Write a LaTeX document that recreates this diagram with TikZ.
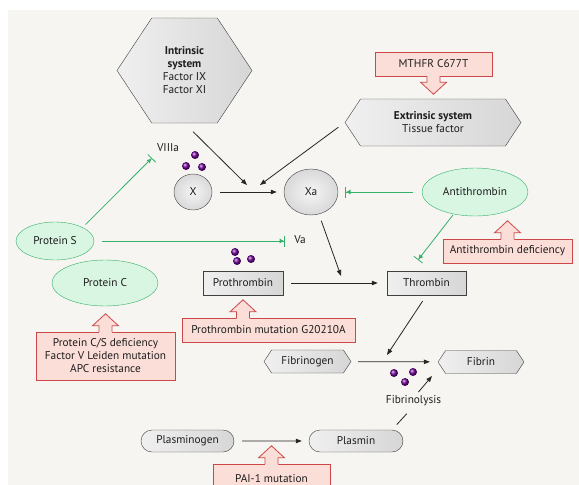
\documentclass[tikz,border=0pt]{standalone}
\usepackage{fontspec}
\setmainfont{PT Sans}
\usetikzlibrary{shapes.geometric,shapes.symbols,shapes.misc,arrows.meta}
\definecolor{bgcol}{RGB}{246,245,241}
\definecolor{grnline}{RGB}{52,176,104}
\definecolor{grnfill}{RGB}{216,246,226}
\definecolor{redline}{RGB}{204,72,72}
\definecolor{redfill}{RGB}{252,222,216}
\definecolor{txtcol}{RGB}{30,30,30}
\tikzset{
    base/.style={font=\fontsize{11.3}{13}\selectfont, text=txtcol, align=center, inner sep=0pt},
    grybox/.style={base, draw=black!75, left color=gray!12, right color=gray!32},
    hexa/.style={grybox, signal, signal to=west and east, signal pointer angle=113},
    pill/.style={grybox, rounded rectangle, minimum width=93, minimum height=22},
    disc/.style={base, ellipse, draw=black!75, inner color=gray!8, outer color=gray!30},
    grn/.style={base, ellipse, draw=grnline, fill=grnfill},
    redbox/.style={base, rectangle, draw=redline, fill=redfill, minimum height=24},
    lbl/.style={base},
    arr/.style={black!85, line width=0.8pt, -{Triangle[length=6pt,width=4.5pt]}},
    inhib/.style={grnline, line width=0.8pt, -{Latex[length=4.5pt,width=5pt]Bar[width=11pt]}}
}
\newcommand\fatarrow[2]{%
    \begin{scope}[shift={(#1)}, rotate=#2]
        \fill[redfill] (-1.5,-6.5) -- (6,-6.5) -- (6,-13) -- (18,0) -- (6,13) -- (6,6.5) -- (-1.5,6.5) -- cycle;
        \draw[redline, line width=0.8pt] (0,-6.5) -- (6,-6.5) -- (6,-13) -- (18,0) -- (6,13) -- (6,6.5) -- (0,6.5);
    \end{scope}}
\begin{document}
\begin{tikzpicture}[x=1pt, y=-1pt]
    \useasboundingbox (0,0) rectangle (579,485);
    \fill[bgcol] (8,10) rectangle (579,485);

    \node[hexa, minimum width=135, minimum height=105] (intr) at (184.5,70.5) {\textbf{Intrinsic}\\\textbf{system}\\Factor IX\\Factor XI};
    \node[redbox, minimum width=117] (mthfr) at (433.5,64) {MTHFR C677T};
    \node[hexa, minimum width=176, minimum height=47] (extr) at (433,122.5) {\textbf{Extrinsic system}\\Tissue factor};

    \node[disc, minimum width=38, minimum height=36] (X) at (193,192) {X};
    \node[disc, minimum width=54, minimum height=46] (Xa) at (311,192) {Xa};
    \node[grn, minimum width=106, minimum height=48] (antith) at (475,192) {Antithrombin};
    \node[grn, minimum width=78, minimum height=38] (protS) at (55,241) {Protein S};
    \node[grn, minimum width=106, minimum height=46] (protC) at (105,283) {Protein C};

    \node[grybox, minimum width=80, minimum height=24] (prothr) at (243,283) {Prothrombin};
    \node[grybox, minimum width=79, minimum height=24] (thromb) at (426.5,283) {Thrombin};
    \node[redbox, minimum width=129] (atdef) at (507.5,251) {Antithrombin deficiency};
    \node[redbox, minimum width=173] (ptmut) at (268.5,330) {Prothrombin mutation G20210A};
    \node[redbox, minimum width=139, minimum height=48] (pcs) at (105.5,356) {Protein C/S deficiency\\Factor V Leiden mutation\\APC resistance};

    \node[hexa, minimum width=87, minimum height=23] (fibgen) at (307.5,361.5) {Fibrinogen};
    \node[hexa, minimum width=86, minimum height=23] (fibrin) at (481,362) {Fibrin};
    \node[pill] (plgen) at (187.5,441) {Plasminogen};
    \node[pill, minimum width=94] (plasmin) at (356,441) {Plasmin};
    \node[redbox, minimum width=117, minimum height=30] (pai) at (271.5,479) {PAI-1 mutation};

    \node[lbl] (viii) at (168,148) {VIIIa};
    \node[lbl] (va) at (300,240) {Va};
    \node[lbl] (fibly) at (413.5,401) {Fibrinolysis};

    \coordinate (j1) at (247,185);
    \coordinate (j2) at (260,185);
    \coordinate (j3) at (341,276);
    \coordinate (j4) at (387,355);
    \coordinate (j5) at (432,376);
    \coordinate (vb) at (152,158);
    \coordinate (vab) at (285,241);
    \coordinate (tb) at (418,260);

    \foreach \p in {(195,155),(186,166),(202,167),(235,252),(237,261),(251,259),(394,373),(413,372),(405,382)}
        \shade[ball color=violet!85!blue] \p circle (4);

    \draw[arr, shorten <=12] (intr.south) -- (j1);
    \draw[arr, shorten <=8] (extr.west) -- (j2);
    \draw[arr, shorten <=8, shorten >=7] (X) -- (Xa);
    \draw[arr, shorten <=7] (Xa) -- (j3);
    \draw[arr, shorten <=8, shorten >=9] (prothr) -- (thromb);
    \draw[arr, shorten <=7] (thromb.south) -- (j4);
    \draw[arr, shorten <=7, shorten >=8] (fibgen) -- (fibrin);
    \draw[arr, shorten <=8, shorten >=7] (plgen) -- (plasmin);
    \draw[black!85, line width=0.8pt, shorten <=7, shorten >=10] (plasmin.north east) -- (fibly.south);
    \draw[arr] ([xshift=5,yshift=9]fibly.center) -- (j5);

    \draw[inhib, shorten <=4] (protS.north east) -- (vb);
    \draw[inhib, shorten <=8] (protS.east) -- (vab);
    \draw[inhib, shorten <=9, shorten >=7] (antith.west) -- (Xa.east);
    \draw[inhib, shorten <=1] (antith.226) -- (tb);

    \fatarrow{mthfr.south}{-90}
    \fatarrow{pcs.north}{90}
    \fatarrow{prothr.south |- ptmut.north}{90}
    \fatarrow{atdef.north}{90}
    \fatarrow{pai.north}{90}
\end{tikzpicture}
\end{document}
